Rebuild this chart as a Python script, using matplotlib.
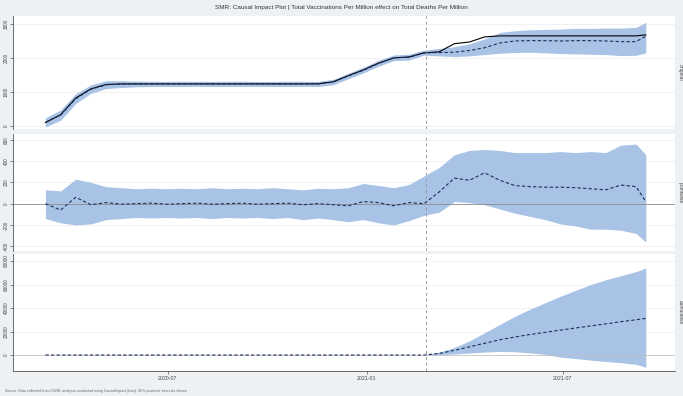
"""
Causal impact plot (original / pointwise / cumulative) for SMR:
total vaccinations per million vs total deaths per million.
"""
import matplotlib
matplotlib.use("Agg")
import matplotlib.pyplot as plt
import matplotlib.dates as mdates
import numpy as np
import pandas as pd

plt.rcParams["font.family"] = ["Liberation Sans", "DejaVu Sans"]

# --- data (values every 14 days) ---
dates = pd.to_datetime([
    "2020-03-10", "2020-03-24", "2020-04-07", "2020-04-21", "2020-05-05",
    "2020-05-19", "2020-06-02", "2020-06-16", "2020-06-30", "2020-07-14",
    "2020-07-28", "2020-08-11", "2020-08-25", "2020-09-08", "2020-09-22",
    "2020-10-06", "2020-10-20", "2020-11-03", "2020-11-17", "2020-12-01",
    "2020-12-15", "2020-12-29", "2021-01-12", "2021-01-26", "2021-02-09",
    "2021-02-23", "2021-03-09", "2021-03-23", "2021-04-06", "2021-04-20",
    "2021-05-04", "2021-05-18", "2021-06-01", "2021-06-15", "2021-06-29",
    "2021-07-13", "2021-07-27", "2021-08-10", "2021-08-24", "2021-09-07",
    "2021-09-16",
])
intervention = pd.Timestamp("2021-02-25")

observed = [100, 330, 820, 1090, 1220, 1237, 1237, 1237, 1237, 1237,
            1237, 1237, 1237, 1237, 1237, 1237, 1237, 1237, 1240, 1300,
            1480, 1650, 1850, 2000, 2030, 2150, 2180, 2420, 2470, 2620,
            2650, 2650, 2650, 2650, 2650, 2650, 2650, 2650, 2650, 2650,
            2680]
predicted = [110, 320, 800, 1080, 1210, 1230, 1235, 1238, 1236, 1238,
             1240, 1236, 1238, 1240, 1237, 1236, 1238, 1240, 1236, 1290,
             1470, 1640, 1840, 2010, 2020, 2150, 2160, 2170, 2220, 2300,
             2440, 2500, 2510, 2510, 2500, 2510, 2510, 2500, 2480, 2480,
             2640]
pred_lower = [-30, 170, 660, 960, 1100, 1130, 1150, 1160, 1160, 1160,
              1165, 1160, 1160, 1165, 1160, 1160, 1160, 1165, 1160, 1210,
              1390, 1560, 1760, 1920, 1940, 2080, 2060, 2040, 2060, 2100,
              2140, 2160, 2170, 2150, 2130, 2120, 2110, 2100, 2070, 2080,
              2150]
pred_upper = [240, 470, 950, 1210, 1330, 1330, 1320, 1315, 1310, 1315,
              1315, 1310, 1315, 1315, 1310, 1310, 1315, 1315, 1310, 1370,
              1550, 1730, 1930, 2090, 2110, 2230, 2280, 2330, 2420, 2560,
              2750, 2800, 2830, 2840, 2850, 2870, 2870, 2880, 2880, 2900,
              3050]

point_effect = [0, -60, 60, -10, 10, -5, 0, 5, -5, 0,
                5, -5, 0, 5, -5, 0, 5, -10, 0, -10,
                -20, 20, 10, -20, 10, 0, 110, 240, 220, 290,
                220, 170, 160, 155, 155, 150, 140, 130, 175, 160,
                20]
point_lower = [-140, -180, -200, -190, -150, -140, -130, -135, -130, -135,
               -130, -140, -130, -135, -130, -140, -130, -150, -135, -150,
               -170, -150, -180, -200, -160, -110, -80, 20, 10, -10,
               -50, -90, -120, -150, -190, -210, -240, -240, -250, -280,
               -360]
point_upper = [130, 120, 230, 200, 160, 150, 140, 145, 140, 145,
               140, 150, 140, 145, 140, 150, 140, 130, 145, 140,
               150, 190, 170, 150, 180, 260, 340, 460, 500, 510,
               500, 480, 480, 480, 490, 480, 490, 480, 550, 560,
               460]

cum_effect = [0, 0, 0, 0, 0, 0, 0, 0, 0, 0,
              0, 0, 0, 0, 0, 0, 0, 0, 0, 0,
              0, 0, 0, 0, 0, 0, 1300, 4000, 7000, 10000,
              13000, 15300, 17500, 19300, 21200, 23000, 24800, 26500, 28400, 30000,
              31200]
cum_lower = [300, 900, 1700, 2500, 3100, 2800, 1800, 600, -1800,
             -3000, -4300, -5500, -6500, -8000, -10400]
cum_upper = [2500, 6500, 12000, 19000, 26000, 33000, 39000, 44500, 50000,
             55000, 60000, 64000, 67500, 71000, 74000]

panel_labels = ["original", "pointwise", "cumulative"]
title = "SMR: Causal Impact Plot | Total Vaccinations Per Million effect on Total Deaths Per Million"
caption = ("Source: Data collected from OWID; analysis conducted using CausalImpact "
           "(bsts), 95% posterior intervals shown")

# --- style ---
BG = "#eef1f4"
BAND = "#a8c3e6"
DASH = "#1c2f5c"
GRID = "#ececec"
AXC = "#555555"

fig = plt.figure(figsize=(6.83, 3.96), dpi=100, facecolor=BG)

left, width = 13 / 683, 662 / 683
boxes = [
    (1 - 129 / 396, 113 / 396),
    (1 - 251 / 396, 117 / 396),
    (1 - 371 / 396, 117 / 396),
]
ylims = [(-90, 3235), (-445, 655), (-13600, 86000)]
yticks = [[0, 1000, 2000, 3000],
          [-400, -200, 0, 200, 400, 600],
          [0, 20000, 40000, 60000, 80000]]
xlim = (pd.Timestamp("2020-02-09"), pd.Timestamp("2021-10-13"))

post = dates > intervention
post_idx = np.where(post)[0]
post_dates = dates[post]

axes = []
for i, (b, h) in enumerate(boxes):
    ax = fig.add_axes([left, b, width, h])
    ax.set_facecolor("white")
    for s in ["top", "right", "bottom"]:
        ax.spines[s].set_visible(False)
    ax.spines["left"].set_color(AXC)
    ax.spines["left"].set_linewidth(0.6)
    ax.set_xlim(*xlim)
    ax.set_ylim(*ylims[i])
    ax.set_yticks(yticks[i])
    ax.set_yticklabels([str(t) for t in yticks[i]], rotation=90, va="center",
                       fontsize=3.4, color="#444444")
    ax.tick_params(axis="y", length=2, width=0.5, color=AXC, pad=1)
    ax.grid(axis="y", color=GRID, linewidth=0.5)
    ax.set_axisbelow(True)
    ax.axvline(intervention, color="#9a9a9a", linestyle=(0, (3, 3)),
               linewidth=0.7, zorder=4)
    axes.append(ax)
    fig.text(680 / 683, b + h / 2, panel_labels[i], rotation=270,
             ha="center", va="center", fontsize=3.6, color="#444444")

ax0, ax1, ax2 = axes

# original
ax0.fill_between(dates, pred_lower, pred_upper, color=BAND, linewidth=0, zorder=2)
ax0.plot(dates, observed, color="black", linewidth=0.8, zorder=3)
ax0.plot(dates, predicted, color=DASH, linewidth=0.8, linestyle=(0, (3, 2)), zorder=3)

# pointwise
ax1.fill_between(dates, point_lower, point_upper, color=BAND, linewidth=0, zorder=2)
ax1.axhline(0, color="#8c8c8c", linewidth=0.6, zorder=2.5)
ax1.plot(dates, point_effect, color=DASH, linewidth=0.8, linestyle=(0, (3, 2)), zorder=3)

# cumulative
band_dates = [dates[post_idx[0] - 1]] + list(post_dates)
ax2.fill_between(band_dates, [0] + cum_lower, [0] + cum_upper, color=BAND,
                 linewidth=0, zorder=2)
ax2.axhline(0, color="#bdbdbd", linewidth=0.5, zorder=2.5)
ax2.plot(dates, cum_effect, color=DASH, linewidth=0.8, linestyle=(0, (3, 2)), zorder=3)

for ax in (ax0, ax1):
    ax.set_xticks([])
ax2.spines["bottom"].set_visible(True)
ax2.spines["bottom"].set_color(AXC)
ax2.spines["bottom"].set_linewidth(0.6)
ax2.set_xticks(pd.to_datetime(["2020-07-01", "2021-01-01", "2021-07-01"]))
ax2.xaxis.set_major_formatter(mdates.DateFormatter("%Y-%m"))
ax2.tick_params(axis="x", length=2, width=0.5, color=AXC, pad=1.5,
                labelsize=3.8, labelcolor="#444444")

fig.text(0.5, 1 - 8 / 396, title, ha="center", va="center", fontsize=4.6,
         color="#333333")
fig.text(5 / 683, 1 - 391 / 396, caption, ha="left", va="center",
         fontsize=2.6, color="#666666")

fig.savefig("out.png", dpi=100, facecolor=BG)
